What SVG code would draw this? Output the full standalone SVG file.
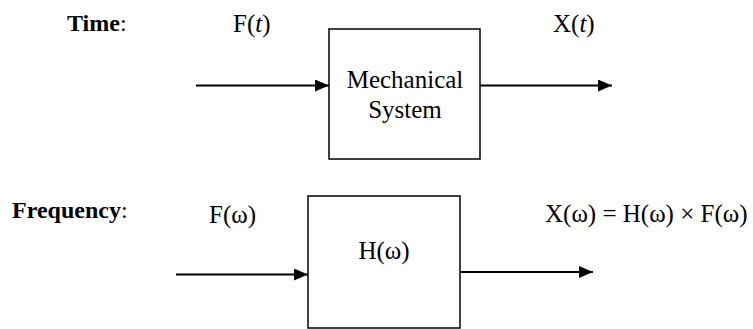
<svg xmlns="http://www.w3.org/2000/svg" width="753" height="329" viewBox="0 0 753 329">
<defs>
<style>
.t{font-family:'Liberation Serif','Times New Roman',Times,serif;font-size:25px;fill:#000}
.b{font-weight:bold;font-size:24px}
.box{fill:#fff;stroke:#000;stroke-width:1.5}
.ln{stroke:#000;stroke-width:2;fill:none}
</style>
<marker id="ah" markerUnits="userSpaceOnUse" markerWidth="14" markerHeight="12" refX="14" refY="6" orient="auto">
<path d="M0,0 L14,6 L0,12 Z" fill="#000"/>
</marker>
</defs>
<rect width="753" height="329" fill="#fff"/>
<g id="labels" class="t">
<text class="b" x="67" y="31"><tspan>Time</tspan><tspan font-weight="normal">:</tspan></text>
<text class="b" x="12" y="218"><tspan>Frequency</tspan><tspan font-weight="normal">:</tspan></text>
<text x="233" y="32">F(<tspan font-style="italic">t</tspan>)</text>
<text x="553" y="32">X(<tspan font-style="italic">t</tspan>)</text>
<text x="209" y="223">F(ω)</text>
<text x="545" y="222">X(ω) = H(ω) × F(ω)</text>
</g>
<g id="connectors">
<line class="ln" x1="196" y1="85.5" x2="329" y2="85.5" marker-end="url(#ah)"/>
<line class="ln" x1="480" y1="85.5" x2="612" y2="85.5" marker-end="url(#ah)"/>
<line class="ln" x1="176" y1="274.5" x2="308" y2="274.5" marker-end="url(#ah)"/>
<line class="ln" x1="460" y1="272" x2="593" y2="272" marker-end="url(#ah)"/>
</g>
<g id="mech" class="t">
<rect class="box" x="329" y="29" width="151" height="130"/>
<text x="405" y="88" text-anchor="middle">Mechanical</text>
<text x="405" y="118" text-anchor="middle">System</text>
</g>
<g id="h" class="t">
<rect class="box" x="308" y="196" width="152" height="132"/>
<text x="384" y="259" text-anchor="middle">H(ω)</text>
</g>
</svg>
